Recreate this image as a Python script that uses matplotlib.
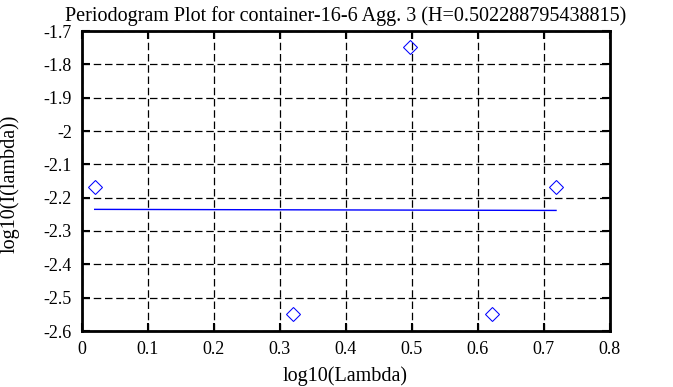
import numpy as np
import matplotlib
matplotlib.use("Agg")
from matplotlib import pyplot as plt
from matplotlib.ticker import FuncFormatter

# periodogram points (log10 of frequency, log10 of periodogram)
log_lambda = [0.020, 0.321, 0.497, 0.622, 0.719]
log_I = [-2.169, -2.550, -1.748, -2.550, -2.169]

# least squares fit, slope = 1 - 2H
hurst = 0.502288795438815
fit_slope = -0.00458
fit_intercept = -2.2350

title = "Periodogram Plot for container-16-6 Agg. 3 (H=0.502288795438815)"
x_ticks = [0, 0.1, 0.2, 0.3, 0.4, 0.5, 0.6, 0.7, 0.8]
y_ticks = [-1.7, -1.8, -1.9, -2.0, -2.1, -2.2, -2.3, -2.4, -2.5, -2.6]

plt.rcParams['font.family'] = ['Liberation Serif', 'DejaVu Serif']

fig = plt.figure(figsize=(6.73, 3.87), dpi=100)
ax = fig.add_axes([81.5 / 673, 1 - 331 / 387, 528 / 673, 300 / 387])

x_line = np.array([log_lambda[0], log_lambda[-1]])
ax.plot(x_line, fit_intercept + fit_slope * x_line, color='#0000ff', lw=1)
ax.plot(log_lambda, log_I, linestyle='none', marker='D', markersize=7.3,
        markerfacecolor='none', markeredgecolor='#0000ff', markeredgewidth=0.75)

ax.set_xlim(0, 0.8)
ax.set_ylim(-2.6, -1.7)
ax.set_xticks(x_ticks)
ax.set_yticks(y_ticks)
fmt = FuncFormatter(lambda v, p: '%g' % round(v, 2))
ax.xaxis.set_major_formatter(fmt)
ax.yaxis.set_major_formatter(fmt)

ax.grid(True, color='black', linestyle=(0, (6, 3)), linewidth=0.9)
ax.tick_params(direction='in', length=6, width=1.5, top=True, right=True,
               labelsize=13, colors='black', pad=7)
for s in ax.spines.values():
    s.set_linewidth(2)

ax.set_title(title, fontsize=14.5, pad=7)
ax.set_xlabel("log10(Lambda)", fontsize=14.5)
ax.set_ylabel("log10(I(lambda))", fontsize=14.5)
ax.xaxis.set_label_coords(0.5, -(376 - 331) / 300, transform=ax.transAxes)
ax.yaxis.set_label_coords(-(81.5 - 10) / 528, 0.49, transform=ax.transAxes)
ax.xaxis.label.set_va('center')
ax.yaxis.label.set_va('center')

fig.savefig("out.png", dpi=100)
